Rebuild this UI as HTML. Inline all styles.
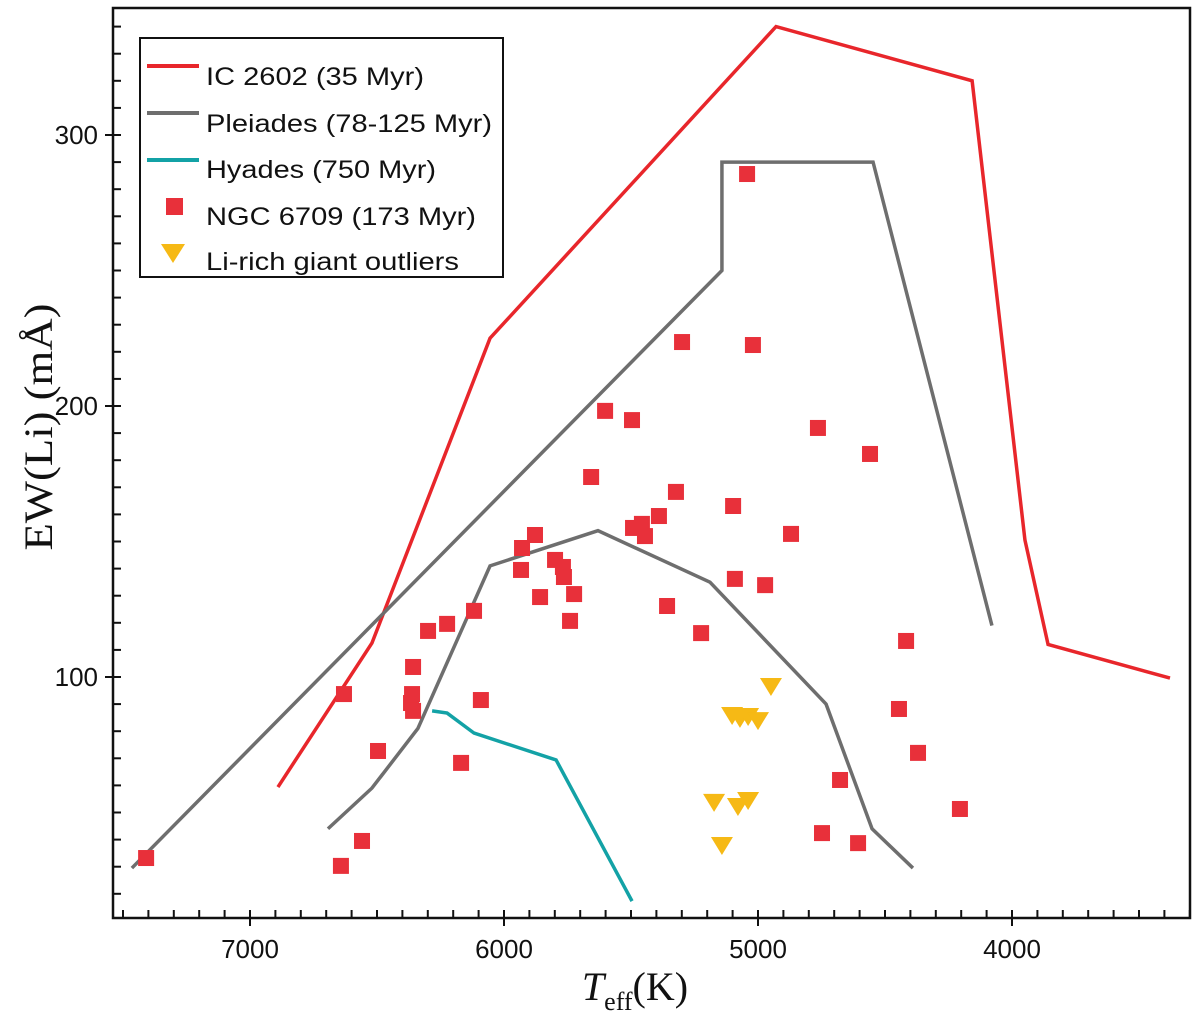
<!DOCTYPE html>
<html><head><meta charset="utf-8"><style>
body{margin:0;background:#fff}
svg{display:block}
</style></head><body>
<svg id="chart" width="1200" height="1016" viewBox="0 0 1200 1016" xmlns="http://www.w3.org/2000/svg">
<g id="plot"></g>
</svg>
<script>
const xTicks=[7000,6000,5000,4000];
const yTicks=[100,200,300];
const ic2602T=[6890,6520,6055,4929,4157,3949,3858,3378];
const ic2602EW=[59.4,112.5,225,340,320,150.5,112,99.6];
const pleiadesUpT=[7465,5142,5142,4547,4079];
const pleiadesUpEW=[29.5,250,290,290,119];
const pleiadesLowT=[6693,6520,6339,6055,5630,5189,4732,4551,4390];
const pleiadesLowEW=[44,59,81,141,154,135,90,44,29.5];
const hyadesT=[6283,6224,6118,5795,5496];
const hyadesEW=[87.5,86.7,79.3,69.4,17.3];
const ngcT=[7409,6642,6559,6630,6496,6366,6362,6358,6358,6299,6224,6118,6169,6091,5933,5929,5878,5858,5799,5768,5764,5740,5724,5657,5602,5496,5492,5457,5445,5390,5358,5323,5299,5224,5098,5091,5043,5020,4972,4870,4764,4748,4677,4606,4559,4445,4417,4370,4205];
const ngcEW=[33.2,30.3,39.5,93.7,72.7,90.4,93.7,87.5,103.7,117,119.6,124.4,68.3,91.5,139.5,147.6,152.4,129.5,143.2,140.6,136.9,120.7,130.6,173.8,198.2,194.8,155,156.5,152,159.4,126.2,168.3,223.6,116.2,163.1,136.2,285.6,222.5,133.9,152.8,191.9,42.4,62,38.7,182.3,88.2,113.3,72,51.3];
const giantT=[4949,5102,5071,5039,5000,5173,5079,5039,5142];
const giantEW=[96.7,86,84.9,85.6,84.1,53.9,52.4,54.6,38];

const X0=113,X1=1190,Y0=8,Y1=918;
function xs(t){return 504+(6000-t)*0.254;}
function ys(v){return 948-v*2.71;}
const NS='http://www.w3.org/2000/svg';
const g=document.getElementById('plot');
function mk(tag,attrs,parent){const e=document.createElementNS(NS,tag);for(const k in attrs)e.setAttribute(k,attrs[k]);(parent||g).appendChild(e);return e;}

const fr=mk('rect',{x:X0,y:Y0,width:X1-X0,height:Y1-Y0,fill:'none',stroke:'#111','stroke-width':2.5});


for(let t=7500;t>=3300;t-=100){
  const x=xs(t); if(x<X0||x>X1) continue;
  const major=t%1000===0;
  const tk=mk('line',{x1:x,x2:x,y1:Y1-8,y2:major?Y1+8:Y1,stroke:'#111','stroke-width':2});
  
  
}
xTicks.forEach(t=>{
  const l=mk('text',{x:xs(t),y:958,'text-anchor':'middle','font-family':'Liberation Sans, sans-serif','font-size':26,fill:'#111'});
  l.textContent=t;
  
  
});
for(let v=10;v<=340;v+=10){
  const y=ys(v); if(y<Y0||y>Y1) continue;
  const major=v%100===0;
  const tk=mk('line',{x1:major?X0-8:X0,x2:X0+8,y1:y,y2:y,stroke:'#111','stroke-width':2});
  
  
}
yTicks.forEach(v=>{
  const l=mk('text',{x:98,y:ys(v)+9,'text-anchor':'end','font-family':'Liberation Sans, sans-serif','font-size':26,fill:'#111'});
  l.textContent=v;
  
  
});
function line(T,E,color,name){
  const p=mk('polyline',{points:T.map((t,i)=>xs(t)+','+ys(E[i])).join(' '),fill:'none',stroke:color,'stroke-width':3.5,'stroke-linejoin':'miter'});
  
  
}
line(ic2602T,ic2602EW,'#e8262b','ic2602-line');
line(pleiadesUpT,pleiadesUpEW,'#6e6e6e','pleiades-upper-line');
line(pleiadesLowT,pleiadesLowEW,'#6e6e6e','pleiades-lower-line');
line(hyadesT,hyadesEW,'#13a2a6','hyades-line');
ngcT.forEach((t,i)=>{
  const r=mk('rect',{x:xs(t)-8,y:ys(ngcEW[i])-8,width:16,height:16,fill:'#e8303a'});
  
  
});
giantT.forEach((t,i)=>{
  const x=xs(t),y=ys(giantEW[i]);
  const p=mk('polygon',{points:(x-11)+','+(y-8)+' '+(x+11)+','+(y-8)+' '+x+','+(y+10),fill:'#f6b915'});
  
  
});
const lg=mk('g',{});


mk('rect',{x:140,y:38,width:363,height:239,fill:'#fff',stroke:'#111','stroke-width':2},lg);
const legItems=[['IC 2602 (35 Myr)','line','#e8262b',66,85,218],['Pleiades (78-125 Myr)','line','#6e6e6e',113,132,286],['Hyades (750 Myr)','line','#13a2a6',160,178,230],['NGC 6709 (173 Myr)','sq','#e8303a',207,225,270],['Li-rich giant outliers','tri','#f6b915',254,270,253]];
legItems.forEach(it=>{
  const e=mk('g',{},lg);
  
  
  if(it[1]==='line') mk('line',{x1:147,x2:199,y1:it[3],y2:it[3],stroke:it[2],'stroke-width':4},e);
  else if(it[1]==='sq') mk('rect',{x:166,y:it[3]-9,width:17,height:17,fill:it[2]},e);
  else mk('polygon',{points:'161,'+(it[3]-10)+' 185,'+(it[3]-10)+' 173,'+(it[3]+9),fill:it[2]},e);
  const tx=mk('text',{x:206,y:it[4],'font-family':'Liberation Sans, sans-serif','font-size':25,fill:'#111',textLength:it[5],lengthAdjust:'spacingAndGlyphs'},e);
  tx.textContent=it[0];
});
const yt=mk('text',{x:0,y:0,transform:'translate(52,427) rotate(-90)','text-anchor':'middle','font-family':'Liberation Serif, serif','font-size':40,fill:'#111',textLength:247,lengthAdjust:'spacingAndGlyphs'});
yt.textContent='EW(Li) (mÅ)';


const xt=mk('text',{x:635,y:1000,'text-anchor':'middle','font-family':'Liberation Serif, serif','font-size':40,fill:'#111'});
xt.innerHTML='<tspan font-style="italic">T</tspan><tspan font-size="26" dy="10">eff</tspan><tspan dy="-10">(K)</tspan>';


</script>
</body></html>
